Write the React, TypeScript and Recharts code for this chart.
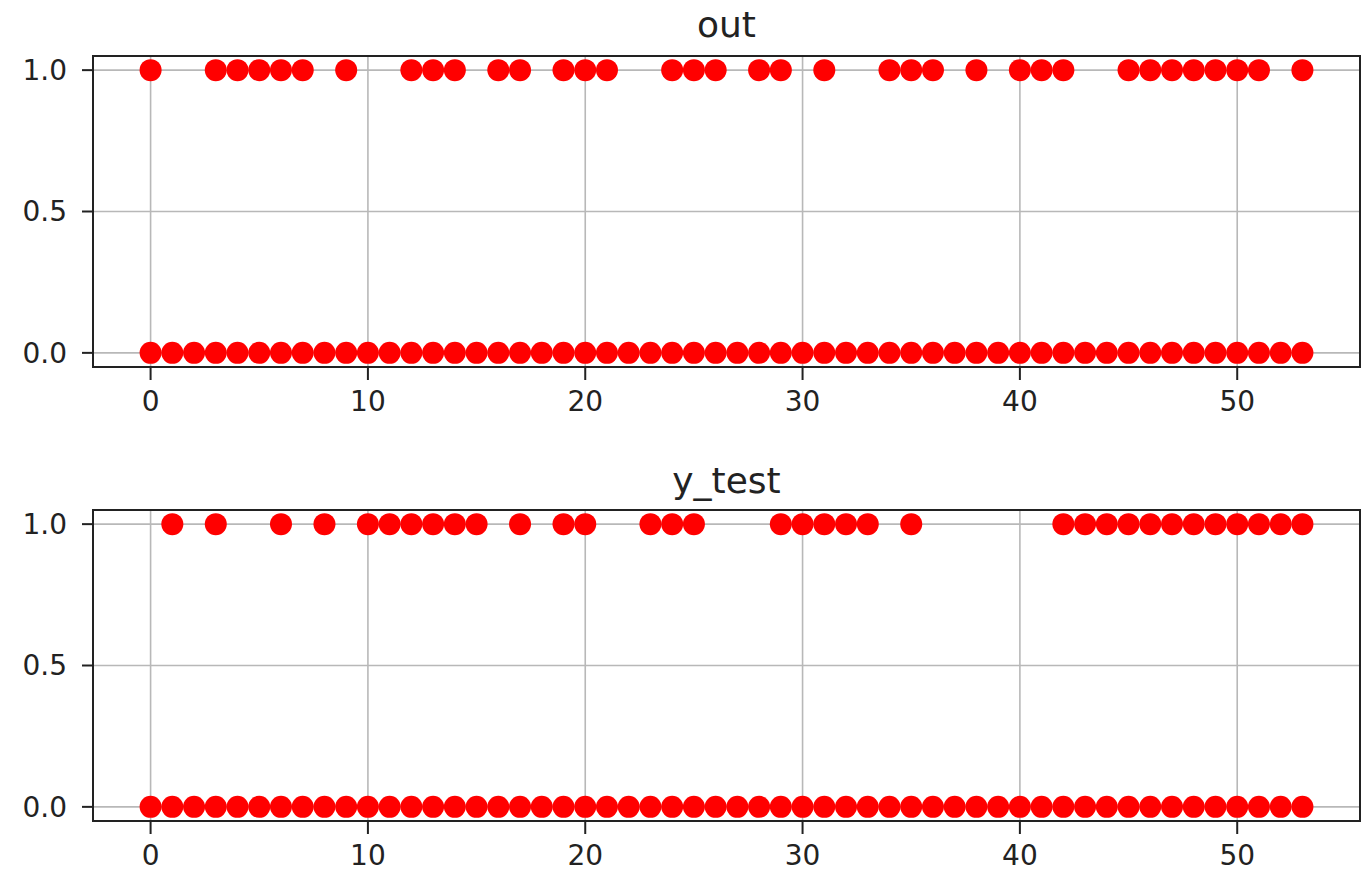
import { ScatterChart, Scatter, XAxis, YAxis, CartesianGrid, ReferenceArea } from "recharts";

// x positions (sample index)
const indices = [
  0, 1, 2, 3, 4, 5, 6, 7, 8, 9, 10, 11, 12, 13, 14, 15, 16, 17, 18, 19, 20, 21, 22, 23, 24, 25, 26,
  27, 28, 29, 30, 31, 32, 33, 34, 35, 36, 37, 38, 39, 40, 41, 42, 43, 44, 45, 46, 47, 48, 49, 50, 51,
  52, 53
];

// indices where the value is 1
const outOnes = [
  0, 3, 4, 5, 6, 7, 9, 12, 13, 14, 16, 17, 19, 20, 21, 24, 25, 26, 28, 29, 31, 34, 35, 36, 38, 40, 41,
  42, 45, 46, 47, 48, 49, 50, 51, 53
];
const yTestOnes = [
  1, 3, 6, 8, 10, 11, 12, 13, 14, 15, 17, 19, 20, 23, 24, 25, 29, 30, 31, 32, 33, 35, 42, 43, 44, 45,
  46, 47, 48, 49, 50, 51, 52, 53
];

const xTicks = [0, 10, 20, 30, 40, 50];
const yTicks = [0, 0.5, 1];

const FONT = "DejaVu Sans, sans-serif";
const tickStyle = { fontSize: 28, fill: "#222", fontFamily: FONT };

const dot = (p: any) => <circle cx={p.cx} cy={p.cy} r={11} fill="#ff0000" />;

function Panel({ title, ones, top, titleTop }: { title: string; ones: number[]; top: number; titleTop: number }) {
  const zeros = indices.map(i => ({ x: i, y: 0 }));
  const highs = ones.map(i => ({ x: i, y: 1 }));

  return (
    <>
      <div
        style={{
          position: "absolute",
          top: titleTop,
          left: 93,
          width: 1267,
          textAlign: "center",
          fontFamily: FONT,
          fontSize: 36,
          lineHeight: 1,
          color: "#222"
        }}
      >
        {title}
      </div>
      <div style={{ position: "absolute", top, left: 0 }}>
        <ScatterChart width={1362} height={427} margin={{ top: 56, right: 2, bottom: 0, left: 0 }}>
          <CartesianGrid stroke="#b8b8b8" strokeWidth={1.6} />
          <XAxis
            type="number"
            dataKey="x"
            domain={[-2.65, 55.65]}
            allowDataOverflow
            ticks={xTicks}
            height={60}
            axisLine={false}
            tickLine={{ stroke: "#222", strokeWidth: 2 }}
            tickSize={13}
            tickMargin={11}
            tick={tickStyle}
          />
          <YAxis
            type="number"
            dataKey="y"
            domain={[-0.05, 1.05]}
            allowDataOverflow
            ticks={yTicks}
            width={93}
            axisLine={false}
            tickLine={{ stroke: "#222", strokeWidth: 2 }}
            tickSize={11}
            tickMargin={15}
            tick={tickStyle}
            tickFormatter={(v: number) => v.toFixed(1)}
          />
          <Scatter data={zeros} shape={dot} isAnimationActive={false} />
          <Scatter data={highs} shape={dot} isAnimationActive={false} />
          <ReferenceArea
            x1={-2.65}
            x2={55.65}
            y1={-0.05}
            y2={1.05}
            fill="none"
            stroke="#222"
            strokeWidth={2}
            strokeOpacity={1}
          />
        </ScatterChart>
      </div>
    </>
  );
}

export default function App() {
  return (
    <div style={{ position: "absolute", left: 0, top: 0, width: 1362, height: 878, background: "#fff", overflow: "hidden" }}>
      <Panel title="out" ones={outOnes} top={0} titleTop={7} />
      <Panel title="y_test" ones={yTestOnes} top={454} titleTop={463} />
    </div>
  );
}
